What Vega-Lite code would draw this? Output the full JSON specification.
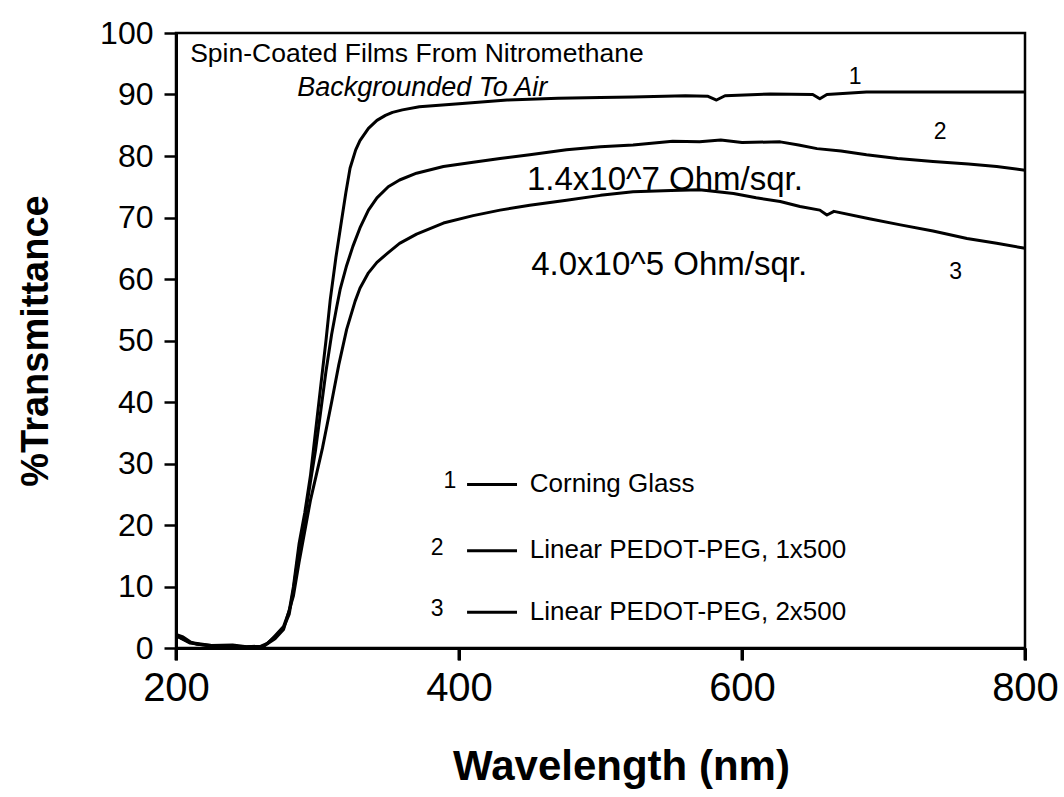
{
  "$schema": "https://vega.github.io/schema/vega-lite/v6.json",
  "autosize": "none",
  "width": 849,
  "height": 615,
  "padding": {"left": 176, "top": 33, "right": 39, "bottom": 149},
  "background": "white",
  "config": {
    "font": "Liberation Sans",
    "view": {"stroke": "black", "strokeWidth": 2.5},
    "axis": {
      "domainColor": "black", "domainWidth": 3, "tickColor": "black", "tickWidth": 2.5, "tickSize": 12, "ticks": true, "zindex": 1,
      "labelColor": "black", "labelFontSize": 32, "labelFont": "Liberation Sans", "labelFlush": false, "labelOverlap": false,
      "titleColor": "black", "titleFontSize": 38, "titleFontWeight": "bold", "titleFont": "Liberation Sans",
      "grid": false
    }
  },
  "datasets": {
    "curves": [
      {"series": "1", "nm": 200, "T": 2.2}, {"series": "1", "nm": 205, "T": 1.8}, {"series": "1", "nm": 210, "T": 1.0}, {"series": "1", "nm": 215, "T": 0.6}, {"series": "1", "nm": 225, "T": 0.4}, {"series": "1", "nm": 240, "T": 0.5}, {"series": "1", "nm": 250, "T": 0.2}, {"series": "1", "nm": 260, "T": 0.3}, {"series": "1", "nm": 265, "T": 0.8}, {"series": "1", "nm": 270, "T": 2.0}, {"series": "1", "nm": 276, "T": 3.5}, {"series": "1", "nm": 280, "T": 6}, {"series": "1", "nm": 283, "T": 10}, {"series": "1", "nm": 287, "T": 17}, {"series": "1", "nm": 291, "T": 22}, {"series": "1", "nm": 295, "T": 28}, {"series": "1", "nm": 298, "T": 34}, {"series": "1", "nm": 302, "T": 42}, {"series": "1", "nm": 306, "T": 50}, {"series": "1", "nm": 309, "T": 56.6}, {"series": "1", "nm": 313, "T": 63.5}, {"series": "1", "nm": 316, "T": 68}, {"series": "1", "nm": 320, "T": 74}, {"series": "1", "nm": 323, "T": 78}, {"series": "1", "nm": 327, "T": 81}, {"series": "1", "nm": 330, "T": 82.5}, {"series": "1", "nm": 336, "T": 84.5}, {"series": "1", "nm": 342, "T": 85.8}, {"series": "1", "nm": 348, "T": 86.6}, {"series": "1", "nm": 353, "T": 87.1}, {"series": "1", "nm": 360, "T": 87.5}, {"series": "1", "nm": 372, "T": 88}, {"series": "1", "nm": 400, "T": 88.5}, {"series": "1", "nm": 434, "T": 89.1}, {"series": "1", "nm": 470, "T": 89.4}, {"series": "1", "nm": 500, "T": 89.5}, {"series": "1", "nm": 523, "T": 89.6}, {"series": "1", "nm": 560, "T": 89.8}, {"series": "1", "nm": 576, "T": 89.7}, {"series": "1", "nm": 582, "T": 89.1}, {"series": "1", "nm": 588, "T": 89.8}, {"series": "1", "nm": 620, "T": 90.1}, {"series": "1", "nm": 650, "T": 90.0}, {"series": "1", "nm": 655, "T": 89.3}, {"series": "1", "nm": 660, "T": 90.0}, {"series": "1", "nm": 688, "T": 90.4}, {"series": "1", "nm": 720, "T": 90.4}, {"series": "1", "nm": 760, "T": 90.4}, {"series": "1", "nm": 800, "T": 90.4},
      {"series": "2", "nm": 200, "T": 2.0}, {"series": "2", "nm": 210, "T": 0.9}, {"series": "2", "nm": 225, "T": 0.4}, {"series": "2", "nm": 250, "T": 0.2}, {"series": "2", "nm": 262, "T": 0.3}, {"series": "2", "nm": 270, "T": 1.8}, {"series": "2", "nm": 276, "T": 3.3}, {"series": "2", "nm": 280, "T": 5.5}, {"series": "2", "nm": 283, "T": 9.5}, {"series": "2", "nm": 287, "T": 16}, {"series": "2", "nm": 291, "T": 21}, {"series": "2", "nm": 295, "T": 27}, {"series": "2", "nm": 298.5, "T": 32}, {"series": "2", "nm": 302, "T": 38}, {"series": "2", "nm": 306, "T": 45}, {"series": "2", "nm": 310, "T": 51}, {"series": "2", "nm": 313.6, "T": 55.5}, {"series": "2", "nm": 316, "T": 58.3}, {"series": "2", "nm": 320.6, "T": 62.2}, {"series": "2", "nm": 325, "T": 65.3}, {"series": "2", "nm": 330, "T": 68.3}, {"series": "2", "nm": 336, "T": 71.2}, {"series": "2", "nm": 342, "T": 73.2}, {"series": "2", "nm": 350, "T": 75}, {"series": "2", "nm": 358, "T": 76.1}, {"series": "2", "nm": 370, "T": 77.2}, {"series": "2", "nm": 389, "T": 78.3}, {"series": "2", "nm": 410, "T": 79}, {"series": "2", "nm": 429, "T": 79.6}, {"series": "2", "nm": 450, "T": 80.2}, {"series": "2", "nm": 476, "T": 81}, {"series": "2", "nm": 500, "T": 81.5}, {"series": "2", "nm": 523, "T": 81.8}, {"series": "2", "nm": 551, "T": 82.4}, {"series": "2", "nm": 570, "T": 82.3}, {"series": "2", "nm": 585, "T": 82.6}, {"series": "2", "nm": 600, "T": 82.2}, {"series": "2", "nm": 627, "T": 82.3}, {"series": "2", "nm": 640, "T": 81.8}, {"series": "2", "nm": 653, "T": 81.2}, {"series": "2", "nm": 670, "T": 80.8}, {"series": "2", "nm": 688, "T": 80.2}, {"series": "2", "nm": 710, "T": 79.6}, {"series": "2", "nm": 735, "T": 79.1}, {"series": "2", "nm": 760, "T": 78.7}, {"series": "2", "nm": 780, "T": 78.3}, {"series": "2", "nm": 800, "T": 77.7},
      {"series": "3", "nm": 200, "T": 2.0}, {"series": "3", "nm": 210, "T": 0.8}, {"series": "3", "nm": 225, "T": 0.3}, {"series": "3", "nm": 250, "T": 0.1}, {"series": "3", "nm": 262, "T": 0.3}, {"series": "3", "nm": 270, "T": 1.5}, {"series": "3", "nm": 276, "T": 3}, {"series": "3", "nm": 283, "T": 8.5}, {"series": "3", "nm": 287, "T": 14}, {"series": "3", "nm": 291, "T": 19}, {"series": "3", "nm": 295, "T": 24}, {"series": "3", "nm": 299, "T": 28}, {"series": "3", "nm": 303.5, "T": 32.5}, {"series": "3", "nm": 310, "T": 40}, {"series": "3", "nm": 315, "T": 46}, {"series": "3", "nm": 320.6, "T": 51.8}, {"series": "3", "nm": 326.6, "T": 56.4}, {"series": "3", "nm": 330, "T": 58.5}, {"series": "3", "nm": 336, "T": 61}, {"series": "3", "nm": 342, "T": 62.7}, {"series": "3", "nm": 350, "T": 64.3}, {"series": "3", "nm": 358, "T": 65.8}, {"series": "3", "nm": 370, "T": 67.3}, {"series": "3", "nm": 389, "T": 69.1}, {"series": "3", "nm": 410, "T": 70.3}, {"series": "3", "nm": 429, "T": 71.2}, {"series": "3", "nm": 450, "T": 72}, {"series": "3", "nm": 476, "T": 72.8}, {"series": "3", "nm": 500, "T": 73.6}, {"series": "3", "nm": 523, "T": 74.2}, {"series": "3", "nm": 550, "T": 74.4}, {"series": "3", "nm": 570, "T": 74.5}, {"series": "3", "nm": 594, "T": 73.9}, {"series": "3", "nm": 610, "T": 73.2}, {"series": "3", "nm": 627, "T": 72.6}, {"series": "3", "nm": 641, "T": 71.8}, {"series": "3", "nm": 655, "T": 71.2}, {"series": "3", "nm": 660, "T": 70.4}, {"series": "3", "nm": 665, "T": 71}, {"series": "3", "nm": 690, "T": 69.8}, {"series": "3", "nm": 712, "T": 68.8}, {"series": "3", "nm": 735, "T": 67.8}, {"series": "3", "nm": 759, "T": 66.6}, {"series": "3", "nm": 780, "T": 65.8}, {"series": "3", "nm": 800, "T": 65}
    ],
    "xticks": [{"nm": 200}, {"nm": 400}, {"nm": 600}, {"nm": 800}],
    "legendLines": [
      {"x1": 405.7, "x2": 441, "y": 26.6},
      {"x1": 405.7, "x2": 441, "y": 15.8},
      {"x1": 405.7, "x2": 441, "y": 5.8}
    ],
    "legendText": [
      {"x": 450, "y": 26.6, "label": "Corning Glass"},
      {"x": 450, "y": 15.9, "label": "Linear PEDOT-PEG, 1x500"},
      {"x": 450, "y": 5.9, "label": "Linear PEDOT-PEG, 2x500"}
    ],
    "legendNums": [
      {"x": 393.5, "y": 27.2, "label": "1"},
      {"x": 384.5, "y": 16.2, "label": "2"},
      {"x": 384.5, "y": 6.4, "label": "3"}
    ],
    "curveNums": [
      {"x": 680, "y": 92.9, "label": "1"},
      {"x": 740, "y": 83.9, "label": "2"},
      {"x": 751, "y": 61.1, "label": "3"}
    ],
    "resist": [
      {"x": 448, "y": 76.1, "label": "1.4x10^7 Ohm/sqr."},
      {"x": 451, "y": 62.3, "label": "4.0x10^5 Ohm/sqr."}
    ],
    "note1": [{"x": 210, "y": 96.6, "label": "Spin-Coated Films From Nitromethane"}],
    "note2": [{"x": 374, "y": 91.1, "label": "Backgrounded To Air"}]
  },
  "layer": [
    {
      "data": {"name": "curves"},
      "mark": {"type": "line", "color": "black", "strokeWidth": 3, "strokeJoin": "round"},
      "encoding": {
        "x": {"field": "nm", "type": "quantitative", "scale": {"domain": [200, 800], "nice": false, "zero": false},
          "axis": {"values": [200, 400, 600, 800], "title": "Wavelength (nm)", "labelPadding": 8, "titlePadding": 38,
            "ticks": true, "tickSize": 12, "tickWidth": 3, "tickColor": "black",
            "labelFontSize": 40, "titleFontSize": 42, "titleX": 445}},
        "y": {"field": "T", "type": "quantitative", "scale": {"domain": [0, 100], "nice": false},
          "axis": {"values": [0, 10, 20, 30, 40, 50, 60, 70, 80, 90, 100], "title": "%Transmittance", "labelPadding": 11, "titlePadding": 44}},
        "detail": {"field": "series"}
      }
    },
    {
      "data": {"name": "xticks"},
      "mark": {"type": "rule", "color": "black", "strokeWidth": 3, "clip": false},
      "encoding": {
        "x": {"field": "nm", "type": "quantitative"},
        "y": {"datum": 0},
        "y2": {"datum": -2}
      }
    },
    {
      "data": {"name": "legendLines"},
      "mark": {"type": "rule", "color": "black", "strokeWidth": 3},
      "encoding": {
        "x": {"field": "x1", "type": "quantitative"},
        "x2": {"field": "x2"},
        "y": {"field": "y", "type": "quantitative"}
      }
    },
    {
      "data": {"name": "legendText"},
      "mark": {"type": "text", "align": "left", "baseline": "middle", "fontSize": 26, "font": "Liberation Sans", "color": "black"},
      "encoding": {"x": {"field": "x", "type": "quantitative"}, "y": {"field": "y", "type": "quantitative"}, "text": {"field": "label"}}
    },
    {
      "data": {"name": "legendNums"},
      "mark": {"type": "text", "align": "center", "baseline": "middle", "fontSize": 23, "font": "Liberation Sans", "color": "black"},
      "encoding": {"x": {"field": "x", "type": "quantitative"}, "y": {"field": "y", "type": "quantitative"}, "text": {"field": "label"}}
    },
    {
      "data": {"name": "curveNums"},
      "mark": {"type": "text", "align": "center", "baseline": "middle", "fontSize": 23, "font": "Liberation Sans", "color": "black"},
      "encoding": {"x": {"field": "x", "type": "quantitative"}, "y": {"field": "y", "type": "quantitative"}, "text": {"field": "label"}}
    },
    {
      "data": {"name": "resist"},
      "mark": {"type": "text", "align": "left", "baseline": "middle", "fontSize": 33, "font": "Liberation Sans", "color": "black"},
      "encoding": {"x": {"field": "x", "type": "quantitative"}, "y": {"field": "y", "type": "quantitative"}, "text": {"field": "label"}}
    },
    {
      "data": {"name": "note1"},
      "mark": {"type": "text", "align": "left", "baseline": "middle", "fontSize": 26.5, "font": "Liberation Sans", "color": "black"},
      "encoding": {"x": {"field": "x", "type": "quantitative"}, "y": {"field": "y", "type": "quantitative"}, "text": {"field": "label"}}
    },
    {
      "data": {"name": "note2"},
      "mark": {"type": "text", "align": "center", "baseline": "middle", "fontSize": 27, "fontStyle": "italic", "font": "Liberation Sans", "color": "black"},
      "encoding": {"x": {"field": "x", "type": "quantitative"}, "y": {"field": "y", "type": "quantitative"}, "text": {"field": "label"}}
    }
  ]
}
